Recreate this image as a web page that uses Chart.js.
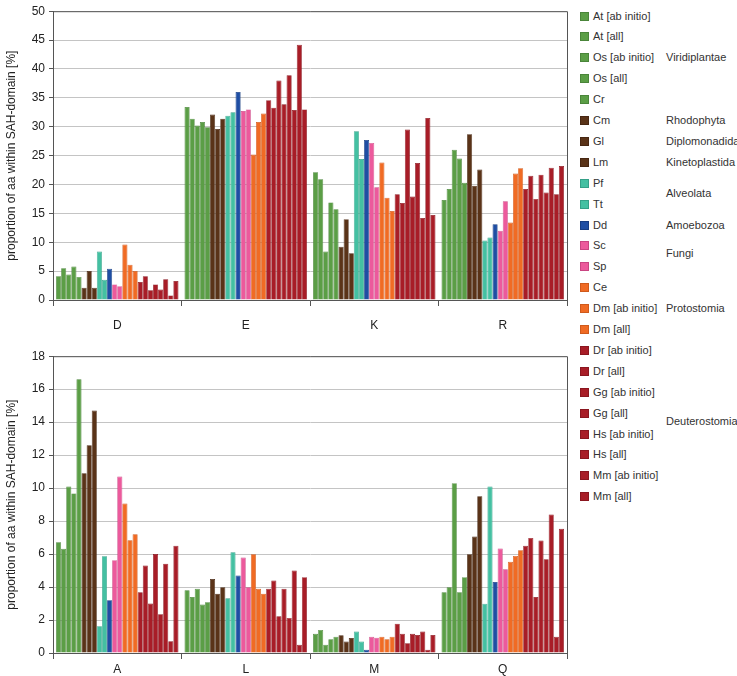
<!DOCTYPE html>
<html><head><meta charset="utf-8">
<script src="https://cdn.jsdelivr.net/npm/chart.js@4"></script>
<style>
html,body{margin:0;padding:0;background:#fff;width:737px;height:676px;overflow:hidden;font-family:"Liberation Sans",Arial,sans-serif;}
#c1{position:absolute;left:0;top:0;}
#c2{position:absolute;left:0;top:345px;}
#legend{position:absolute;left:0;top:0;}
.li{position:absolute;font-size:11px;color:#333;white-space:nowrap;line-height:12px;}
.sw{position:absolute;width:7px;height:7px;}
</style></head><body>
<canvas id="c1" width="570" height="340"></canvas>
<canvas id="c2" width="570" height="331"></canvas>
<div id="legend"></div>
<script>
// ---- data ----
const seriesNames = ["At [ab initio]","At [all]","Os [ab initio]","Os [all]","Cr","Cm","Gl","Lm","Pf","Tt","Dd","Sc","Sp","Ce","Dm [ab initio]","Dm [all]","Dr [ab initio]","Dr [all]","Gg [ab initio]","Gg [all]","Hs [ab initio]","Hs [all]","Mm [ab initio]","Mm [all]"];
const seriesGroup = ["plant","plant","plant","plant","plant","rhodo","rhodo","rhodo","alv","alv","amoeba","fungi","fungi","proto","proto","proto","deut","deut","deut","deut","deut","deut","deut","deut"];
const groupLabels = [["Viridiplantae",2],["Rhodophyta",5],["Diplomonadida",6],["Kinetoplastida",7],["Alveolata",8.5],["Amoebozoa",10],["Fungi",11.34],["Protostomia",14],["Deuterostomia",19.4]];
const topCategories = ["D","E","K","R"];
const bottomCategories = ["A","L","M","Q"];
const topTicks = {min:0,max:50,step:5};
const bottomTicks = {min:0,max:18,step:2};
// values per category (24 series each)
const valD = [4.1,5.5,4.4,5.8,4.0, 2.1,5.0,2.1, 8.4,3.5, 5.4, 2.7,2.4, 9.6,6.1,5.0, 3.1,4.1,1.7,2.7,1.8,3.6,0.8,3.3];
const valE = [33.4,31.4,30.2,30.8,29.9, 32.1,29.6,31.4, 31.9,32.5, 36.0, 32.7,33.0, 25.2,30.8,32.3, 34.6,33.3,38.0,33.9,38.9,32.9,44.2,33.0];
const valK = [22.1,20.9,8.4,16.9,15.7, 9.2,14.0,8.1, 29.2,24.4, 27.7, 27.2,19.5, 23.8,17.7,15.4, 18.3,16.8,29.5,17.9,23.7,14.2,31.5,14.7];
const valR = [17.3,19.2,26.0,24.5,20.3, 28.7,19.8,22.6, 10.3,10.8, 13.1, 12.0,17.1, 13.4,21.9,22.8, 19.2,21.5,17.5,21.7,18.6,22.9,18.3,23.2];
const valA = [6.72,6.32,10.1,9.68,16.6, 10.9,12.6,14.7, 1.62,5.87, 3.2, 5.63,10.7, 9.07,6.84,7.2, 3.68,5.3,3.0,6.0,2.35,5.42,0.71,6.5];
const valL = [3.8,3.4,3.9,2.94,3.08, 4.49,3.6,3.99, 3.32,6.11, 4.7, 5.79,3.99, 5.99,3.9,3.6, 3.9,4.39,2.23,3.9,2.13,5.0,0.5,4.6];
const valM = [1.17,1.4,0.5,0.83,0.99, 1.07,0.69,0.91, 1.3,0.69, 0.2, 0.99,0.93, 0.99,0.83,0.99, 1.78,1.17,0.59,1.17,1.09,1.3,0.2,1.09];
const valQ = [3.68,3.99,10.3,3.68,4.6, 5.99,7.06,9.51, 2.98,10.1, 4.31, 6.34,5.08, 5.53,5.89,6.23, 6.5,6.98,3.4,6.82,5.69,8.4,0.99,7.53];

const groupColor = {plant:"#5b9e46",rhodo:"#5a3318",alv:"#44c0a2",amoeba:"#1f4ea3",fungi:"#ec5a9c",proto:"#f06b24",deut:"#a81d27"};
const groupBorder = {plant:"#4a853a",rhodo:"#472712",alv:"#35a088",amoeba:"#173d82",fungi:"#c94582",proto:"#cf5a1c",deut:"#8a161f"};

const FONT = '"Liberation Sans", Arial, sans-serif';
const frame = {
  id:'frame',
  afterDraw(chart){
    const {ctx, chartArea:a} = chart;
    ctx.save();
    ctx.strokeStyle='#555'; ctx.lineWidth=1;
    ctx.beginPath();
    ctx.moveTo(a.left, a.top+0.5); ctx.lineTo(a.right+0.5, a.top+0.5); ctx.lineTo(a.right+0.5, a.bottom);
    ctx.stroke();
    ctx.restore();
  }
};

function makeChart(id, cats, vals, tk, padTop, xH, labelPad){
  const datasets = seriesNames.map((n,i)=>({
    label:n,
    data: vals.map(v=>v[i]),
    backgroundColor: groupColor[seriesGroup[i]],
    borderColor: groupBorder[seriesGroup[i]],
    borderWidth: 0.7,
    categoryPercentage: 0.953,
    barPercentage: 1.0
  }));
  return new Chart(document.getElementById(id), {
    type:'bar',
    data:{labels:cats, datasets},
    options:{
      responsive:false, animation:false,
      layout:{padding:{top:padTop,right:3,left:0,bottom:0}},
      plugins:{legend:{display:false},tooltip:{enabled:false}},
      scales:{
        x:{
          grid:{offset:true,drawOnChartArea:false,drawTicks:true,tickLength:6,tickColor:'#555'},
          border:{color:'#555',width:1},
          ticks:{font:{family:FONT,size:12},color:'#222',padding:labelPad},
          afterFit(s){ s.height = xH; }
        },
        y:{
          min:tk.min, max:tk.max,
          ticks:{stepSize:tk.step,font:{family:FONT,size:12},color:'#222',padding:4},
          grid:{color:'#c4c4c4',lineWidth:1,tickLength:4,tickColor:'#555'},
          border:{color:'#555',width:1},
          title:{display:true,text:'proportion of aa within SAH-domain [%]',font:{family:FONT,size:12},color:'#222',padding:{top:4,bottom:0}},
          afterFit(s){ s.width = 53; }
        }
      }
    },
    plugins:[frame]
  });
}
makeChart('c1', topCategories, [valD,valE,valK,valR], topTicks, 5, 40, 12);
makeChart('c2', bottomCategories, [valA,valL,valM,valQ], bottomTicks, 11, 23, 3);

// legend
const lg = document.getElementById('legend');
const y0 = 15.5, dy = 20.9;
seriesNames.forEach((n,i)=>{
  const y = y0 + i*dy;
  const sw = document.createElement('div');
  sw.className='sw';
  sw.style.left='580px'; sw.style.top=(y-4)+'px';
  sw.style.background=groupColor[seriesGroup[i]];
  sw.style.border='0.5px solid '+groupBorder[seriesGroup[i]];
  lg.appendChild(sw);
  const t = document.createElement('div');
  t.className='li'; t.textContent=n;
  t.style.left='593px'; t.style.top=(y-6)+'px';
  lg.appendChild(t);
});
groupLabels.forEach(([g,pos])=>{
  const t = document.createElement('div');
  t.className='li'; t.textContent=g;
  t.style.left='666px'; t.style.top=(y0+pos*dy-6)+'px';
  lg.appendChild(t);
});
</script>
</body></html>
